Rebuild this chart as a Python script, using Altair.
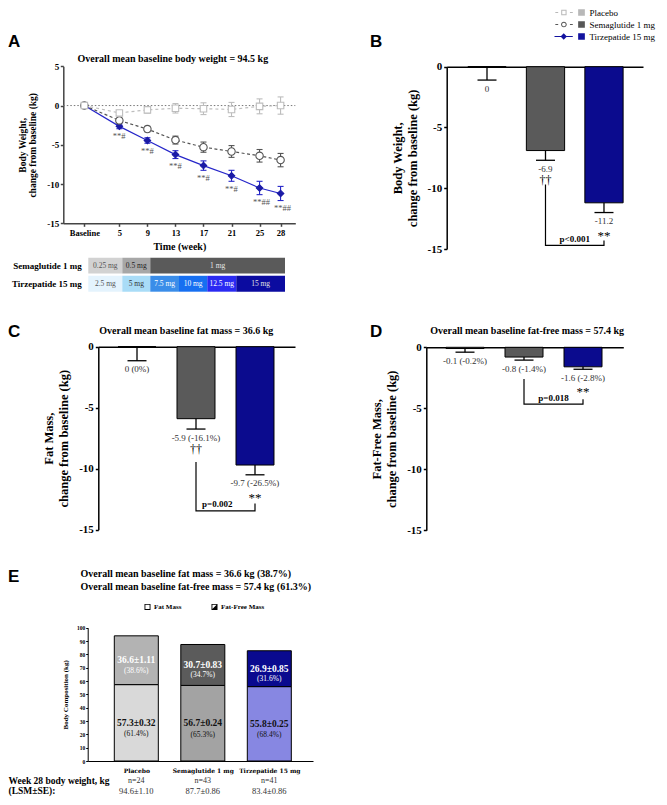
import altair as alt
import pandas as pd

SERIF = "Liberation Serif"
SANS = "Liberation Sans"
W, H = 651, 789  # whole figure area (page minus the 8px margin)

# ---------------- Panel A: body weight change over time ----------------
weeks = [0, 5, 9, 13, 17, 21, 25, 28]
week_tick_text = ["Baseline", "5", "9", "13", "17", "21", "25", "28"]
placebo_bw = [0.0, -0.94, -0.55, -0.35, -0.4, -0.5, -0.1, 0.0]
placebo_bw_se = [0.0, 0.3, 0.4, 0.6, 0.75, 0.9, 0.95, 1.1]
sema_bw = [0.0, -1.9, -3.0, -4.4, -5.3, -5.85, -6.4, -6.95]
sema_bw_se = [0.0, 0.3, 0.35, 0.5, 0.65, 0.75, 0.8, 0.85]
tirz_bw = [0.0, -2.65, -4.45, -6.25, -7.65, -8.95, -10.5, -11.2]
tirz_bw_se = [0.0, 0.3, 0.35, 0.5, 0.6, 0.7, 0.85, 0.9]
tirz_sig = ["", "**#", "**#", "**#", "**#", "**#", "**##", "**##"]

# dose escalation (weeks on the same time axis)
sema_doses = ["0.25 mg", "0.5 mg", "1 mg"]
sema_dose_start = [0.57, 5.42, 9.41]
sema_dose_end = [5.42, 9.41, 28.63]
tirz_doses = ["2.5 mg", "5 mg", "7.5 mg", "10 mg", "12.5 mg", "15 mg"]
tirz_dose_start = [0.57, 5.42, 9.41, 13.51, 17.54, 21.68]
tirz_dose_end = [5.42, 9.41, 13.51, 17.54, 21.68, 28.63]
sema_dose_fill = ["#d2d2d2", "#a7a7a7", "#5a5a5a"]
sema_dose_text = ["#555555", "#222222", "#e6e6e6"]
tirz_dose_fill = ["#e4f3fd", "#a9dcf7", "#3a8de9", "#166ff1", "#2a2af2", "#0b0ba0"]
tirz_dose_text = ["#555555", "#333333", "#ffffff", "#ffffff", "#ffffff", "#e0e0e0"]

# ---------------- Panels B-D ----------------
groups = ["Placebo", "Semaglutide 1 mg", "Tirzepatide 15 mg"]
group_fill = ["#b3b3b3", "#5a5a5a", "#0b0b8e"]

bw_change = [0.0, -6.9, -11.2]
bw_se = [1.1, 0.8, 0.8]
bw_text = ["0", "-6.9", "-11.2"]
bw_sig = ["", "††", "**"]
bw_bracket = [-9.7, -14.7, -14.3]
bw_p = "p<0.001"

fm_change = [0.0, -5.9, -9.7]
fm_se = [1.15, 0.85, 0.8]
fm_text = ["0 (0%)", "-5.9 (-16.1%)", "-9.7 (-26.5%)"]
fm_sig = ["", "††", "**"]
fm_bracket = [-9.45, -13.45, -12.85]
fm_p = "p=0.002"

ffm_change = [-0.1, -0.8, -1.6]
ffm_se = [0.3, 0.25, 0.2]
ffm_text = ["-0.1 (-0.2%)", "-0.8 (-1.4%)", "-1.6 (-2.8%)"]
ffm_sig = ["", "", "**"]
ffm_bracket = [-2.6, -4.65, -4.25]
ffm_p = "p=0.018"

# ---------------- Panel E ----------------
fat_mass = [36.6, 30.7, 26.9]
fat_mass_text = ["36.6±1.11", "30.7±0.83", "26.9±0.85"]
fat_mass_pct = ["(38.6%)", "(34.7%)", "(31.6%)"]
ff_mass = [57.3, 56.7, 55.8]
ff_mass_text = ["57.3±0.32", "56.7±0.24", "55.8±0.25"]
ff_mass_pct = ["(61.4%)", "(65.3%)", "(68.4%)"]
fat_fill = ["#b3b3b3", "#5b5b5b", "#0a0a8f"]
ff_fill = ["#d9d9d9", "#a3a3a3", "#8787e2"]
n_text = ["n=24", "n=43", "n=41"]
week28_text = ["94.6±1.10", "87.7±0.86", "83.4±0.86"]

# legend glyphs (line + marker + colour box)
legend_colors = ["#b8b8b8", "#575757", "#13139f"]
legend_paths = [
    "M-7.8,-0.15H-6.95V0.15H-7.8Z M-6.05,-0.8H-4.45V0.8H-6.05Z M-5.75,-0.5V0.5H-4.75V-0.5Z "
    "M-3.45,-0.15H-2.6V0.15H-3.45Z M-1,-1H1V1H-1Z",
    "M-7.8,-0.15H-6.95V0.15H-7.8Z M-6.1,0A0.85,0.85,0,1,1,-4.4,0A0.85,0.85,0,1,1,-6.1,0Z "
    "M-5.8,0A0.55,0.55,0,1,0,-4.7,0A0.55,0.55,0,1,0,-5.8,0Z M-3.45,-0.15H-2.6V0.15H-3.45Z M-1,-1H1V1H-1Z",
    "M-8.05,-0.15H-2.6V0.15H-8.05Z M-5.3,-1L-4.35,0L-5.3,1L-6.25,0Z M-1,-1H1V1H-1Z",
]
comp_names = ["Fat Mass", "Fat-Free Mass"]
comp_paths = [
    "M-1,-1H1V1H-1Z M-0.7,-0.7V0.7H0.7V-0.7Z",
    "M-1,-1H1V1H-1Z M-0.7,-0.7V0.7H0.7V-0.7Z M0.7,-0.7L0.7,0.7L-0.7,0.7Z",
]

# panel letters and their anchor (left, baseline) in figure pixels
panel_letters = ["A", "B", "C", "D", "E"]
letter_pos = [(0, 39), (362, 39), (0, 328.7), (362, 328.7), (0, 573.7)]

CAP = "M-1,0H1"

# ======================= Panel A =======================
A_XDOM = [-3, 30.1]
a_x = alt.Scale(domain=A_XDOM, range=[55.3, 287.3], nice=False, zero=False)
a_y = alt.Scale(domain=[-15, 5], range=[215.3, 58.3], nice=False, zero=False)

tick_expr = ("[" + ",".join(f"'{t}'" for t in week_tick_text) + "][indexof(["
             + ",".join(str(w) for w in weeks) + "], datum.value)]")
a_xaxis_bottom = alt.Axis(
    orient="bottom", offset=215.3 - H, values=weeks, labelExpr=tick_expr, domainColor="#444",
    domainWidth=1.5, tickColor="#444", tickWidth=1.5, tickSize=3, labelPadding=2.4, labelFontSize=8.5,
    labelFontWeight="bold", labelFlush=False, labelOverlap=False, title="Time (week)",
    titleFontSize=10, titleFontWeight="bold", titlePadding=3.8)
a_xaxis_top = alt.Axis(
    orient="top", offset=-58.3, domain=False, ticks=False, labels=False,
    title="Overall mean baseline body weight = 94.5 kg", titleFontSize=10, titleFontWeight="bold",
    titleX=164.3, titleAlign="center", titleBaseline="bottom", titlePadding=2.5)
a_yaxis = alt.Axis(
    orient="left", offset=-55.3, values=[-15, -10, -5, 0, 5], labelExpr="datum.value + ''",
    domainColor="#444", domainWidth=1.5, tickColor="#444", tickWidth=1.5, tickSize=3, labelPadding=1.5,
    labelFontSize=9, labelFontWeight="bold", labelFlush=False,
    title=["Body Weight,", "change from baseline (kg)"], titleFontSize=9.5, titleFontWeight="bold",
    titleLineHeight=10.5, titlePadding=9)

a_series = [
    ("Tirzepatide 15 mg", tirz_bw, tirz_bw_se, "#2626c9", None, "diamond", "#1b1ba6", 42),
    ("Semaglutide 1 mg", sema_bw, sema_bw_se, "#555555", [3, 2.5], "circle", "white", 55),
    ("Placebo", placebo_bw, placebo_bw_se, "#bdbdbd", [3, 3], "square", "white", 42),
]

a_layers = [
    alt.Chart(pd.DataFrame({"ref": [0]})).mark_rule(color="#777777", strokeDash=[1.5, 2], strokeWidth=1)
    .encode(x=alt.X(datum=A_XDOM[0], scale=a_x, axis=None), x2=alt.X2(datum=A_XDOM[1]),
            y=alt.Y("ref:Q", scale=a_y, axis=None))
]
for i, (name, vals, ses, col, dash, shape, fill, size) in enumerate(a_series):
    df = pd.DataFrame({"week": weeks, "mean": vals, "se": ses})
    df["lo"] = df["mean"] - df["se"]
    df["hi"] = df["mean"] + df["se"]
    df["sig"] = tirz_sig if name == "Tirzepatide 15 mg" else [""] * len(weeks)
    base = alt.Chart(df)
    if i == 0:
        xax, yax = a_xaxis_bottom, a_yaxis
    elif i == 1:
        xax, yax = a_xaxis_top, None
    else:
        xax, yax = None, None
    line_kw = dict(color=col, strokeWidth=1.2)
    if dash:
        line_kw["strokeDash"] = dash
    xq = alt.X("week:Q", scale=a_x, axis=None)
    a_layers.append(base.mark_line(**line_kw).encode(
        x=alt.X("week:Q", scale=a_x, axis=xax), y=alt.Y("mean:Q", scale=a_y, axis=yax)))
    eb = base.transform_filter("datum.se > 0")
    a_layers.append(eb.mark_rule(color=col, strokeWidth=1.1).encode(
        x=xq, y=alt.Y("lo:Q", scale=a_y, axis=None), y2="hi:Q"))
    for fld in ["lo", "hi"]:
        a_layers.append(eb.mark_point(shape=CAP, size=36, filled=False, stroke=col, strokeWidth=1.1,
                                      opacity=1).encode(x=xq, y=alt.Y(f"{fld}:Q", scale=a_y, axis=None)))
    a_layers.append(base.mark_point(shape=shape, size=size, filled=True, fill=fill,
                                    stroke=col if fill == "white" else fill, strokeWidth=1.1,
                                    opacity=1).encode(x=xq, y=alt.Y("mean:Q", scale=a_y, axis=None)))
    if name == "Tirzepatide 15 mg":
        a_layers.append(base.transform_filter("datum.sig != ''").mark_text(
            align="left", dx=-6.5, dy=7.5, baseline="middle", fontSize=8.5, color="#555555")
            .encode(x=xq, y=alt.Y("lo:Q", scale=a_y, axis=None), text="sig:N"))

panel_a = alt.layer(*a_layers).resolve_axis(x="independent", y="independent")

# ======================= Dose escalation =======================
dose_rows = ["Semaglutide 1 mg", "Tirzepatide 15 mg"]
dose_df = pd.DataFrame({
    "row": [dose_rows[0]] * len(sema_doses) + [dose_rows[1]] * len(tirz_doses),
    "dose": sema_doses + tirz_doses,
    "start": sema_dose_start + tirz_dose_start,
    "end": sema_dose_end + tirz_dose_end,
    "fill": sema_dose_fill + tirz_dose_fill,
    "tcolor": sema_dose_text + tirz_dose_text,
})
dose_x = alt.Scale(domain=[0.57, 28.63], range=[80.3, 277], nice=False, zero=False)
dose_y = alt.Scale(domain=dose_rows, range=[249.7, 283.7], paddingInner=0.12, paddingOuter=0)
dose_yaxis = alt.Axis(
    orient="left", offset=-80.3, domain=False, ticks=False, tickSize=0, labelPadding=7, labelFontSize=9,
    labelFontWeight="bold", labelAlign="right", labelBaseline="middle", title=None)
dose_base = alt.Chart(dose_df)
dose_chart = alt.layer(
    dose_base.mark_rect().encode(
        x=alt.X("start:Q", scale=dose_x, axis=None), x2="end:Q",
        y=alt.Y("row:N", scale=dose_y, axis=dose_yaxis),
        fill=alt.Fill("fill:N", scale=None)),
    dose_base.transform_calculate(mid="(datum.start + datum.end) / 2").mark_text(fontSize=7.5).encode(
        x=alt.X("mid:Q", scale=dose_x, axis=None), y=alt.Y("row:N", scale=dose_y, axis=None),
        text="dose:N", color=alt.Color("tcolor:N", scale=None)),
).resolve_axis(x="independent", y="independent")


# ======================= Panels B, C, D =======================
def bar_panel(vals, ses, texts, sigs, bracket, p_text, p_x, xdom, xrange, yrange, ytitle,
              top_title, top_title_x, top_title_pad, half_w, extra=None):
    df = pd.DataFrame({"group": groups, "pos": [1, 2, 3], "value": vals, "se": ses,
                       "label": texts, "sig": sigs, "color": group_fill})
    df["cap"] = df["value"] - df["se"]
    xs = alt.Scale(domain=xdom, range=xrange, nice=False, zero=False)
    ys = alt.Scale(domain=[-15, 0], range=yrange, nice=False, zero=False)
    top_kw = dict(orient="top", offset=-yrange[1], domain=True, domainColor="black", domainWidth=1.5,
                  ticks=False, labels=False)
    if top_title:
        xaxis = alt.Axis(title=top_title, titleX=top_title_x, titleAlign="center",
                         titleBaseline="bottom", titlePadding=top_title_pad, titleFontSize=10,
                         titleFontWeight="bold", **top_kw)
    else:
        xaxis = alt.Axis(title=None, **top_kw)
    yaxis = alt.Axis(orient="left", offset=-xrange[0], values=[-15, -10, -5, 0],
                     labelExpr="datum.value + ''", domainColor="black", domainWidth=1.5,
                     tickColor="black", tickWidth=1.5, tickSize=3, labelPadding=2, labelFontSize=11,
                     labelFontWeight="bold", labelFlush=False, title=ytitle, titleFontSize=12.5,
                     titleFontWeight="bold", titleLineHeight=15, titlePadding=8)
    base = alt.Chart(df)
    xq = alt.X("pos:Q", scale=xs, axis=None)
    ycap = alt.Y("cap:Q", scale=ys, axis=None)
    layers = [
        base.transform_calculate(x0=f"datum.pos - {half_w}", x1=f"datum.pos + {half_w}")
        .mark_bar(stroke="black", strokeWidth=1).encode(
            x=alt.X("x0:Q", scale=xs, axis=xaxis), x2="x1:Q",
            y=alt.Y("value:Q", scale=ys, axis=yaxis), y2=alt.datum(0),
            fill=alt.Fill("color:N", scale=None)),
        base.mark_rule(color="black", strokeWidth=1.3).encode(
            x=xq, y=alt.Y("value:Q", scale=ys, axis=None), y2="cap:Q"),
        base.mark_point(shape=CAP, size=361, filled=False, stroke="black", strokeWidth=1.3,
                        opacity=1).encode(x=xq, y=ycap),
        base.mark_text(fontSize=9, color="#333333", baseline="middle", dy=8.5).encode(
            x=xq, y=ycap, text="label:N"),
        base.transform_filter("datum.sig == '††'").mark_text(
            fontSize=12, color="black", baseline="middle", dy=20).encode(x=xq, y=ycap, text="sig:N"),
        base.transform_filter("datum.sig == '**'").mark_text(
            fontSize=13, color="black", baseline="middle", dy=23).encode(x=xq, y=ycap, text="sig:N"),
    ]
    br = pd.DataFrame({"pos": [2, 2, 3, 3],
                       "y": [bracket[0], bracket[1], bracket[1], bracket[2]],
                       "order": [0, 1, 2, 3]})
    layers.append(alt.Chart(br).mark_line(color="black", strokeWidth=1.2).encode(
        x=alt.X("pos:Q", scale=xs, axis=None), y=alt.Y("y:Q", scale=ys, axis=None), order="order:Q"))
    pt = pd.DataFrame({"pos": [p_x], "y": [bracket[1]], "t": [p_text]})
    layers.append(alt.Chart(pt).mark_text(fontSize=9, fontWeight="bold", baseline="bottom", dy=-1.5,
                                          color="black").encode(
        x=alt.X("pos:Q", scale=xs, axis=None), y=alt.Y("y:Q", scale=ys, axis=None), text="t:N"))
    if extra is not None:
        layers.append(extra)
    return alt.layer(*layers).resolve_axis(x="independent", y="independent")


legend_params = alt.Legend(
    orient="none", legendX=569, legendY=0, title=None, symbolSize=45, symbolStrokeWidth=0,
    labelFontSize=9, labelFont=SERIF, labelColor="black", labelOffset=3.4, rowPadding=2, padding=0,
    symbolOpacity=1)
legend_layer = alt.Chart(pd.DataFrame({"treatment": groups})).transform_filter("false").mark_point(
    filled=True, opacity=1, size=45).encode(
    fill=alt.Fill("treatment:N", scale=alt.Scale(domain=groups, range=legend_colors), legend=legend_params),
    shape=alt.Shape("treatment:N", scale=alt.Scale(domain=groups, range=legend_paths), legend=legend_params),
)

panel_b = bar_panel(bw_change, bw_se, bw_text, bw_sig, bw_bracket, bw_p, 2.5, [0.311, 3.667],
                    [438.7, 635], [241, 58.7], ["Body Weight,", "change from baseline (kg)"],
                    None, 0, 0, 0.327, extra=legend_layer)
panel_c = bar_panel(fm_change, fm_se, fm_text, fm_sig, fm_bracket, fm_p, 2.36, [0.344, 3.678],
                    [90.3, 287], [521.7, 338.7], ["Fat Mass,", "change from baseline (kg)"],
                    "Overall mean baseline fat mass = 36.6 kg", 177.8, 11.2, 0.322)
panel_d = bar_panel(ffm_change, ffm_se, ffm_text, ffm_sig, ffm_bracket, ffm_p, 2.5, [0.344, 3.683],
                    [418.3, 615.3], [522.3, 339.3], ["Fat-Free Mass,", "change from baseline (kg)"],
                    "Overall mean baseline fat-free mass = 57.4 kg", 518.7, 11.8, 0.322)

# ======================= Panel E =======================
e_df = pd.DataFrame({"pos": [1, 2, 3], "fat": fat_mass, "ffm": ff_mass, "fat_t": fat_mass_text,
                     "fat_p": fat_mass_pct, "ffm_t": ff_mass_text, "ffm_p": ff_mass_pct,
                     "fat_c": fat_fill, "ffm_c": ff_fill, "n": n_text, "w28": week28_text})
e_df["top"] = e_df["ffm"] + e_df["fat"]
e_df["fat_mid"] = e_df["ffm"] + e_df["fat"] / 2
e_df["ffm_mid"] = e_df["ffm"] / 2
E_BOTTOM, E_TOP = 753, 619.7
e_x = alt.Scale(domain=[0.269, 3.657], range=[79.7, 305], nice=False, zero=False)
e_y = alt.Scale(domain=[0, 100], range=[E_BOTTOM, E_TOP], nice=False, zero=True)
name_expr = "[" + ",".join(f"'{g}'" for g in groups) + "][datum.value - 1]"
e_xaxis = alt.Axis(
    orient="bottom", offset=E_BOTTOM - H, values=[1, 2, 3], labelExpr=name_expr, domainColor="black",
    domainWidth=1.2, ticks=False, labelPadding=6.5, labelFontSize=6, labelFont="DejaVu Serif",
    labelFontWeight="bold", labelFlush=False, labelOverlap=False,
    title=["Week 28 body weight, kg", "(LSM±SE):"], titleFontSize=9.5, titleFontWeight="bold",
    titleLineHeight=10.5, titleAlign="left", titleBaseline="top", titleX=0, titleY=14, titleAngle=0)
e_xaxis_top = alt.Axis(
    orient="top", offset=-E_TOP, domain=False, ticks=False, labels=False,
    title=["Overall mean baseline fat mass = 36.6 kg (38.7%)",
           "Overall mean baseline fat-free mass = 57.4 kg (61.3%)"],
    titleFontSize=10, titleFontWeight="bold", titleLineHeight=13, titleAlign="left",
    titleBaseline="bottom", titleX=72, titlePadding=36.2)
e_yaxis = alt.Axis(
    orient="left", offset=-79.7, values=list(range(0, 101, 10)), domainColor="black", domainWidth=1,
    tickColor="black", tickWidth=1, tickSize=2, labelPadding=1, labelFontSize=5.5, labelFontWeight="bold",
    labelFlush=False, title="Body Composition (kg)", titleFontSize=7, titleFontWeight="bold",
    titlePadding=8)
e_base = alt.Chart(e_df).transform_calculate(x0="datum.pos - 0.331", x1="datum.pos + 0.331")
ex = alt.X("pos:Q", scale=e_x, axis=None)
comp_legend = alt.Legend(
    orient="none", legendX=136, legendY=595.2, direction="horizontal", columns=2, columnPadding=29,
    title=None, symbolSize=36, symbolStrokeWidth=0, labelFontSize=7, labelFont=SERIF,
    labelFontWeight="bold", labelColor="black", labelOffset=3, padding=0, symbolOpacity=1)
e_layers = [
    e_base.mark_bar(stroke="black", strokeWidth=1).encode(
        x=alt.X("x0:Q", scale=e_x, axis=e_xaxis), x2="x1:Q",
        y=alt.Y("ffm:Q", scale=e_y, axis=e_yaxis), y2=alt.datum(0),
        fill=alt.Fill("ffm_c:N", scale=None)),
    e_base.mark_bar(stroke="black", strokeWidth=1).encode(
        x=alt.X("x0:Q", scale=e_x, axis=e_xaxis_top), x2="x1:Q",
        y=alt.Y("top:Q", scale=e_y, axis=None), y2="ffm:Q",
        fill=alt.Fill("fat_c:N", scale=None)),
    e_base.mark_text(fontSize=9.5, fontWeight="bold", color="white", baseline="middle").encode(
        x=ex, y=alt.Y("fat_mid:Q", scale=e_y, axis=None), text="fat_t:N"),
    e_base.mark_text(fontSize=7.5, color="white", baseline="middle", dy=10.5).encode(
        x=ex, y=alt.Y("fat_mid:Q", scale=e_y, axis=None), text="fat_p:N"),
    e_base.mark_text(fontSize=9.5, fontWeight="bold", color="#111111", baseline="middle").encode(
        x=ex, y=alt.Y("ffm_mid:Q", scale=e_y, axis=None), text="ffm_t:N"),
    e_base.mark_text(fontSize=7.5, color="#111111", baseline="middle", dy=11.5).encode(
        x=ex, y=alt.Y("ffm_mid:Q", scale=e_y, axis=None), text="ffm_p:N"),
    e_base.mark_text(fontSize=8, color="#333333", baseline="middle").encode(
        x=ex, y=alt.value(772.5), text="n:N"),
    e_base.mark_text(fontSize=8.5, color="#333333", baseline="middle").encode(
        x=ex, y=alt.value(783), text="w28:N"),
    alt.Chart(pd.DataFrame({"part": comp_names})).transform_filter("false").mark_point(
        filled=True, color="black", opacity=1, size=36).encode(
        shape=alt.Shape("part:N", scale=alt.Scale(domain=comp_names, range=comp_paths), legend=comp_legend)),
]
panel_e = alt.layer(*e_layers).resolve_axis(x="independent", y="independent")

# ======================= Panel letters =======================
letter_layers = []
for letter, (lx, ly) in zip(panel_letters, letter_pos):
    letter_layers.append(
        alt.Chart(pd.DataFrame({"t": [letter]})).mark_text(
            font=SANS, fontSize=17, fontWeight="bold", align="left", baseline="alphabetic", color="black")
        .encode(x=alt.value(lx), y=alt.value(ly), text="t:N"))

# ======================= Assemble =======================
chart = alt.layer(panel_a, dose_chart, panel_b, panel_c, panel_d, panel_e, *letter_layers).resolve_scale(
    x="independent", y="independent", shape="independent", fill="independent"
).resolve_axis(x="independent", y="independent").properties(
    width=W, height=H, padding=0, autosize=alt.AutoSizeParams(type="none")
).configure_view(stroke="transparent").configure_axis(
    grid=False, labelFont=SERIF, titleFont=SERIF, labelColor="black", titleColor="black"
).configure_text(font=SERIF)

chart.save("out.html", embed_options={"renderer": "svg", "actions": False})
